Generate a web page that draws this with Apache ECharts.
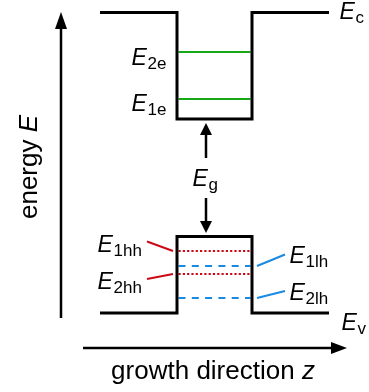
<!DOCTYPE html>
<html>
<head>
<meta charset="utf-8">
<script src="https://cdn.jsdelivr.net/npm/echarts@6/dist/echarts.min.js"></script>
<style>
  html, body { margin: 0; padding: 0; background: #fff; }
  #chart { width: 369px; height: 392px; }
</style>
</head>
<body>
<div id="chart"></div>
<script>
// Quantum well band diagram: position z along growth direction vs. energy E (arbitrary units)

// Growth-direction positions: barrier start, well left edge, well right edge, barrier end
const zEdges = [100, 177, 252, 329];
// Conduction band edge: [barrier, well]
const conductionBand = [379.5, 273];
// Valence band edge: [barrier, well]
const valenceBand = [79, 155.5];
// Confined states
const electronLevels = [293, 340];   // E1e, E2e
const heavyHoleLevels = [141, 118];  // E1hh, E2hh
const lightHoleLevels = [126, 94];   // E1lh, E2lh

const FONT = 'Liberation Sans, Arial, sans-serif';
const BLACK = '#000';
const GREEN = '#17a817';
const RED = '#cc0a16';
const BLUE = '#1a8ae0';

// Band edge profiles
function profile(band) {
  return [
    [zEdges[0], band[0]], [zEdges[1], band[0]],
    [zEdges[1], band[1]], [zEdges[2], band[1]],
    [zEdges[2], band[0]], [zEdges[3], band[0]]
  ];
}

// Level lines span the inside of the well
const levelSpan = [zEdges[1] + 1.5, zEdges[2] - 1.5];
function levelSeries(energy, color, dash) {
  return {
    type: 'line', silent: true, showSymbol: false, z: 2,
    data: [[levelSpan[0], energy], [levelSpan[1], energy]],
    lineStyle: { color: color, width: 2, type: dash || 'solid' }
  };
}

// Arrows with the head at the second point
const arrows = [
  { from: [61, 74], to: [61, 380], head: 17, half: 6, width: 2.5 },        // energy axis
  { from: [83, 44], to: [347, 44], head: 16, half: 6, width: 2.5 },        // growth axis
  { from: [206, 234], to: [206, conductionBand[1] - 4], head: 12, half: 6, width: 2.5 }, // Eg upper
  { from: [206, 194], to: [206, valenceBand[1] + 3.5], head: 12, half: 6, width: 2.5 }   // Eg lower
];

// Leader lines from labels to the hole levels
const leaders = [
  { from: [147, 150.5], to: [173, heavyHoleLevels[0]], color: RED },
  { from: [147, 113], to: [173, heavyHoleLevels[1]], color: RED },
  { from: [257, lightHoleLevels[0]], to: [285, 137.5], color: BLUE },
  { from: [257, lightHoleLevels[1]], to: [285, 101], color: BLUE }
];

// Energy labels: anchor is the left edge / vertical centre of the italic E
const energyLabels = [
  { at: [339.5, 379], sub: 'c' },
  { at: [131.5, 333], sub: '2e' },
  { at: [131.5, 287.5], sub: '1e' },
  { at: [192.5, 212], sub: 'g' },
  { at: [97.5, 146.5], sub: '1hh' },
  { at: [97.5, 109.5], sub: '2hh' },
  { at: [289.5, 135], sub: '1lh' },
  { at: [289.5, 98.5], sub: '2lh' },
  { at: [341.5, 68.5], sub: 'v' }
];

const chart = echarts.init(document.getElementById('chart'), null, { renderer: 'canvas' });

const series = [
  {
    type: 'line', silent: true, showSymbol: false, z: 3,
    data: profile(conductionBand),
    lineStyle: { color: BLACK, width: 3, join: 'miter' }
  },
  {
    type: 'line', silent: true, showSymbol: false, z: 3,
    data: profile(valenceBand),
    lineStyle: { color: BLACK, width: 3, join: 'miter' }
  },
  levelSeries(electronLevels[0], GREEN),
  levelSeries(electronLevels[1], GREEN),
  levelSeries(heavyHoleLevels[0], RED, [2.2, 2.1]),
  levelSeries(heavyHoleLevels[1], RED, [2.2, 2.1]),
  levelSeries(lightHoleLevels[0], BLUE, [7, 6.3]),
  levelSeries(lightHoleLevels[1], BLUE, [7, 6.3]),
  {
    type: 'custom', silent: true, z: 4,
    data: arrows.map((a, i) => [i]),
    renderItem: function (params, api) {
      const a = arrows[params.dataIndex];
      const p0 = api.coord(a.from);
      const p1 = api.coord(a.to);
      const dx = p1[0] - p0[0], dy = p1[1] - p0[1];
      const len = Math.sqrt(dx * dx + dy * dy);
      const ux = dx / len, uy = dy / len;
      const bx = p1[0] - ux * a.head, by = p1[1] - uy * a.head;
      return {
        type: 'group',
        children: [
          {
            type: 'line',
            shape: { x1: p0[0], y1: p0[1], x2: bx + ux * 2, y2: by + uy * 2 },
            style: { stroke: BLACK, lineWidth: a.width }
          },
          {
            type: 'polygon',
            shape: { points: [
              [p1[0], p1[1]],
              [bx - uy * a.half, by + ux * a.half],
              [bx + uy * a.half, by - ux * a.half]
            ] },
            style: { fill: BLACK }
          }
        ]
      };
    }
  },
  {
    type: 'custom', silent: true, z: 4,
    data: leaders.map((l, i) => [i]),
    renderItem: function (params, api) {
      const l = leaders[params.dataIndex];
      const p0 = api.coord(l.from), p1 = api.coord(l.to);
      return {
        type: 'line',
        shape: { x1: p0[0], y1: p0[1], x2: p1[0], y2: p1[1] },
        style: { stroke: l.color, lineWidth: 2 }
      };
    }
  },
  {
    type: 'custom', silent: true, z: 5,
    data: energyLabels.map((l, i) => [i]),
    renderItem: function (params, api) {
      const l = energyLabels[params.dataIndex];
      const p = api.coord(l.at);
      return {
        type: 'group',
        children: [
          {
            type: 'text', x: p[0], y: p[1],
            style: { text: 'E', fontSize: 23, fontStyle: 'italic', fontFamily: FONT,
                     fill: BLACK, align: 'left', verticalAlign: 'middle' }
          },
          {
            type: 'text', x: p[0] + 16, y: p[1] + 5.5,
            style: { text: l.sub, fontSize: 17, fontFamily: FONT,
                     fill: BLACK, align: 'left', verticalAlign: 'middle' }
          }
        ]
      };
    }
  },
  {
    // Axis titles
    type: 'custom', silent: true, z: 5,
    data: [[0]],
    renderItem: function (params, api) {
      const pE = api.coord([30, 225]);
      const pZ = api.coord([213, 20.5]);
      return {
        type: 'group',
        children: [
          {
            type: 'text', x: pE[0], y: pE[1], rotation: Math.PI / 2,
            style: {
              text: '{n|energy }{i|E}', align: 'center', verticalAlign: 'middle',
              rich: {
                n: { fontSize: 26, fontFamily: FONT, fill: BLACK },
                i: { fontSize: 26, fontFamily: FONT, fontStyle: 'italic', fill: BLACK }
              }
            }
          },
          {
            type: 'text', x: pZ[0], y: pZ[1],
            style: {
              text: '{n|growth direction }{i|z}', align: 'center', verticalAlign: 'middle',
              rich: {
                n: { fontSize: 26, fontFamily: FONT, fill: BLACK },
                i: { fontSize: 26, fontFamily: FONT, fontStyle: 'italic', fill: BLACK }
              }
            }
          }
        ]
      };
    }
  }
];

chart.setOption({
  animation: false,
  backgroundColor: '#fff',
  grid: { left: 0, right: 0, top: 0, bottom: 0, containLabel: false },
  xAxis: { type: 'value', min: 0, max: 369, show: false },
  yAxis: { type: 'value', min: 0, max: 392, show: false },
  series: series
});
</script>
</body>
</html>
